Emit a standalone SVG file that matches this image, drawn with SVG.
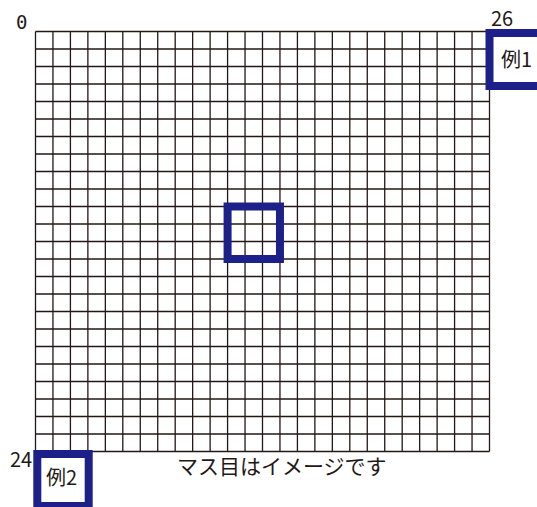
<svg xmlns="http://www.w3.org/2000/svg" width="537" height="507" viewBox="0 0 537 507">
<style>
.grid{fill:none;stroke:#231815;stroke-width:1.3}
.box{fill:none;stroke:#1d2088;stroke-width:8}
.lbl{font-family:"Noto Sans CJK JP","Noto Sans",sans-serif;fill:#231815}
.zero{font-family:"DejaVu Sans Mono",monospace;fill:#231815}
</style>
<rect width="537" height="507" fill="#fff"/>
<g id="grid">
<path class="grid" d="M35.5 31.5V451.5M52.96 31.5V451.5M70.42 31.5V451.5M87.88 31.5V451.5M105.35 31.5V451.5M122.81 31.5V451.5M140.27 31.5V451.5M157.73 31.5V451.5M175.19 31.5V451.5M192.65 31.5V451.5M210.12 31.5V451.5M227.58 31.5V451.5M245.04 31.5V451.5M262.5 31.5V451.5M279.96 31.5V451.5M297.42 31.5V451.5M314.88 31.5V451.5M332.35 31.5V451.5M349.81 31.5V451.5M367.27 31.5V451.5M384.73 31.5V451.5M402.19 31.5V451.5M419.65 31.5V451.5M437.12 31.5V451.5M454.58 31.5V451.5M472.04 31.5V451.5M489.5 31.5V451.5
M35.5 31.5H489.5M35.5 49H489.5M35.5 66.5H489.5M35.5 84H489.5M35.5 101.5H489.5M35.5 119H489.5M35.5 136.5H489.5M35.5 154H489.5M35.5 171.5H489.5M35.5 189H489.5M35.5 206.5H489.5M35.5 224H489.5M35.5 241.5H489.5M35.5 259H489.5M35.5 276.5H489.5M35.5 294H489.5M35.5 311.5H489.5M35.5 329H489.5M35.5 346.5H489.5M35.5 364H489.5M35.5 381.5H489.5M35.5 399H489.5M35.5 416.5H489.5M35.5 434H489.5M35.5 451.5H489.5"/>
</g>
<g id="axis-labels">
<text class="zero" x="16" y="29" font-size="19">0</text>
<text class="lbl" x="491" y="25.7" font-size="20">26</text>
<text class="lbl" x="10" y="466.5" font-size="20">24</text>
</g>
<g id="center-box">
<rect class="box" x="227.58" y="206.5" width="52.38" height="52.5"/>
</g>
<g id="example1">
<rect class="box" x="489.5" y="33" width="55" height="53"/>
<text class="lbl" x="501" y="66.5" font-size="20">例1</text>
</g>
<g id="example2">
<rect class="box" x="37.3" y="454" width="51.4" height="52"/>
<text class="lbl" x="46" y="485" font-size="20">例2</text>
</g>
<g id="caption">
<text class="lbl" x="177" y="473.5" font-size="21" fill="#3e3a39">マス目はイメージです</text>
</g>
</svg>
